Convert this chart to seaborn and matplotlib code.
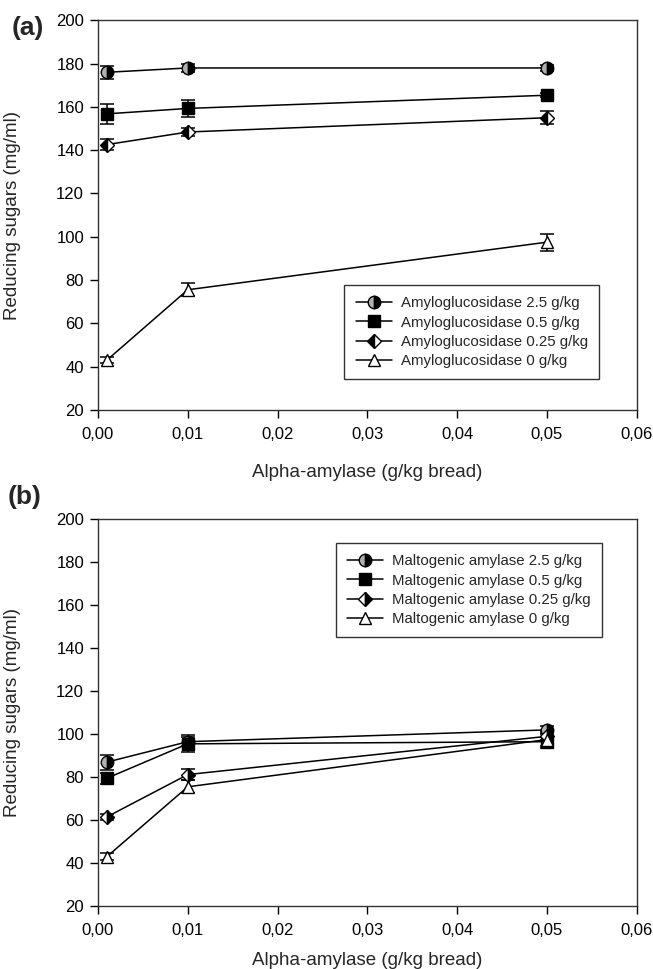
import matplotlib
matplotlib.use("Agg")
import matplotlib.pyplot as plt
import seaborn as sns
import pandas as pd
from matplotlib.lines import Line2D
from matplotlib.ticker import FuncFormatter, MultipleLocator

# ---- data ----
alpha = [0.001, 0.01, 0.05]

labels_a = ["Amyloglucosidase 2.5 g/kg", "Amyloglucosidase 0.5 g/kg",
            "Amyloglucosidase 0.25 g/kg", "Amyloglucosidase 0 g/kg"]
amg_25 = [176, 178, 178]
amg_25_err = [3, 2, 1.5]
amg_05 = [156.8, 159.3, 165.4]
amg_05_err = [4.5, 4, 1]
amg_025 = [142.6, 148.4, 155]
amg_025_err = [2.5, 2, 3]
amg_0 = [43, 75.5, 97.5]
amg_0_err = [1.5, 3, 4]

labels_b = ["Maltogenic amylase 2.5 g/kg", "Maltogenic amylase 0.5 g/kg",
            "Maltogenic amylase 0.25 g/kg", "Maltogenic amylase 0 g/kg"]
ma_25 = [87, 96.5, 102]
ma_25_err = [3.5, 2, 2]
ma_05 = [79.5, 95.5, 96.5]
ma_05_err = [2.5, 4, 2]
ma_025 = [61.5, 81.2, 99]
ma_025_err = [1.5, 2.5, 1.5]
ma_0 = [43, 75.5, 97.5]
ma_0_err = [1.5, 3, 4]

sns.set_style("ticks")
plt.rcParams['font.family'] = ['Liberation Sans', 'DejaVu Sans']

styles_a = [
    dict(marker='o', markersize=9, fillstyle='left', markerfacecolor='#b0b0b0', markerfacecoloralt='black'),
    dict(marker='s', markersize=8, fillstyle='full', markerfacecolor='black'),
    dict(marker='D', markersize=7.5, fillstyle='left', markerfacecolor='black', markerfacecoloralt='white'),
    dict(marker='^', markersize=9, fillstyle='full', markerfacecolor='white'),
]
styles_b = [
    styles_a[0], styles_a[1],
    dict(marker='D', markersize=7.5, fillstyle='left', markerfacecolor='white', markerfacecoloralt='black'),
    styles_a[3],
]

fig = plt.figure(figsize=(6.53, 9.69), dpi=100)
ax_a = fig.add_axes([0.150, 0.577, 0.825, 0.402])
ax_b = fig.add_axes([0.150, 0.065, 0.825, 0.399])

def draw(ax, series, errs, labels, styles, legend_kw, xlab_y):
    rows = []
    for lab, vals in zip(labels, series):
        for x, v in zip(alpha, vals):
            rows.append(dict(x=x, y=v, series=lab))
    df = pd.DataFrame(rows)
    sns.lineplot(data=df, x="x", y="y", hue="series", palette=["black"] * 4,
                 linewidth=1.1, ax=ax, legend=False, zorder=2)
    handles = []
    for lab, vals, e, st in zip(labels, series, errs, styles):
        ax.errorbar(alpha, vals, yerr=e, fmt='none', ecolor='black',
                    elinewidth=1.1, capsize=5, capthick=1.1, zorder=3)
        ax.plot(alpha, vals, linestyle='none', markeredgecolor='black',
                markeredgewidth=1.0, zorder=4, **st)
        handles.append(Line2D([], [], color='black', linewidth=1.1,
                              markeredgecolor='black', markeredgewidth=1.0,
                              label=lab, **st))
    leg = ax.legend(handles=handles, frameon=True, fancybox=False,
                    edgecolor='black', fontsize=10.8, handlelength=2.4,
                    handletextpad=0.6, labelspacing=0.35, borderpad=0.75,
                    **legend_kw)
    leg.get_frame().set_linewidth(1.0)
    ax.set_xlim(0, 0.06)
    ax.set_ylim(20, 200)
    ax.xaxis.set_major_locator(MultipleLocator(0.01))
    ax.yaxis.set_major_locator(MultipleLocator(20))
    ax.xaxis.set_major_formatter(FuncFormatter(lambda v, p: f"{v:.2f}".replace('.', ',')))
    ax.yaxis.set_major_formatter(FuncFormatter(lambda v, p: f"{v:.0f}"))
    ax.tick_params(direction='out', length=6, width=1, labelsize=12, colors='black',
                   top=False, right=False)
    ax.tick_params(axis='x', pad=6.5)
    ax.tick_params(axis='y', pad=4)
    for s in ax.spines.values():
        s.set_visible(True)
        s.set_linewidth(1.0)
        s.set_color('#333333')
    ax.set_xlabel("Alpha-amylase (g/kg bread)", fontsize=13.5)
    ax.set_ylabel("Reducing sugars (mg/ml)", fontsize=13.5)
    ax.xaxis.set_label_coords(0.5, xlab_y)
    ax.yaxis.set_label_coords(-0.142, 0.5)

draw(ax_a, [amg_25, amg_05, amg_025, amg_0],
     [amg_25_err, amg_05_err, amg_025_err, amg_0_err], labels_a, styles_a,
     dict(loc='lower right', bbox_to_anchor=(0.944, 0.059)), -0.138)
draw(ax_b, [ma_25, ma_05, ma_025, ma_0],
     [ma_25_err, ma_05_err, ma_025_err, ma_0_err], labels_b, styles_b,
     dict(loc='upper right', bbox_to_anchor=(0.950, 0.958)), -0.118)

fig.text(0.018, 0.971, "(a)", fontsize=19, fontweight='bold', va='center')
fig.text(0.012, 0.487, "(b)", fontsize=19, fontweight='bold', va='center')

fig.savefig("out.png", dpi=100)
